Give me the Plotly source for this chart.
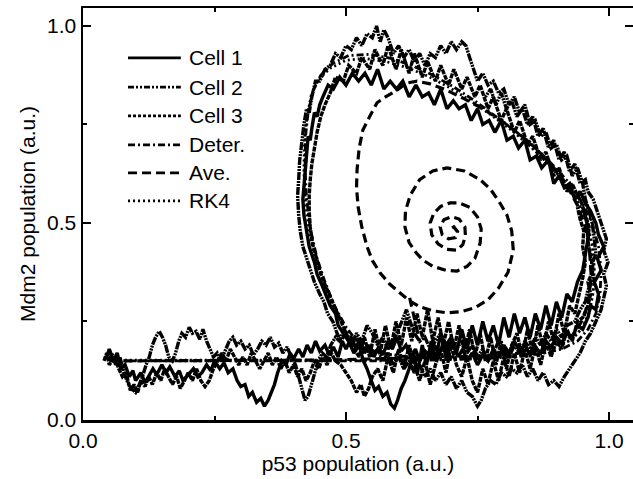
import plotly.graph_objects as go

# ---------------- data ----------------
cell1_pts = [
    (0.045,0.16),(0.05,0.18),(0.058,0.15),(0.065,0.17),(0.072,0.13),(0.08,0.14),(0.088,0.11),(0.095,0.125),
    (0.10,0.10),(0.11,0.12),(0.118,0.095),(0.125,0.11),(0.133,0.13),(0.14,0.115),(0.15,0.14),(0.158,0.12),
    (0.165,0.135),(0.175,0.11),(0.183,0.125),(0.19,0.10),(0.2,0.115),(0.21,0.13),(0.218,0.11),(0.226,0.12),
    (0.235,0.14),(0.243,0.125),(0.25,0.15),(0.26,0.13),(0.268,0.145),(0.276,0.12),(0.285,0.13),(0.293,0.10),
    (0.30,0.085),(0.308,0.09),(0.315,0.06),(0.322,0.07),(0.33,0.045),(0.338,0.055),(0.345,0.035),(0.352,0.05),
    (0.358,0.07),(0.364,0.09),(0.37,0.12),(0.378,0.15),(0.386,0.14),(0.394,0.17),(0.40,0.155),(0.41,0.18),
    (0.418,0.16),(0.426,0.19),(0.434,0.17),(0.442,0.2),(0.45,0.175),(0.46,0.19),(0.468,0.165),(0.476,0.185),
    (0.485,0.16),(0.493,0.2),(0.50,0.18),(0.51,0.21),(0.518,0.185),(0.527,0.2),(0.535,0.17),(0.545,0.19),
    (0.553,0.16),(0.562,0.185),(0.57,0.165),(0.58,0.2),(0.588,0.18),(0.597,0.21),(0.605,0.175),(0.614,0.19),
    (0.623,0.16),(0.632,0.18),(0.64,0.15),(0.65,0.175),(0.66,0.16),(0.668,0.19),(0.677,0.165),(0.686,0.2),
    (0.695,0.175),(0.704,0.19),(0.713,0.16),(0.722,0.18),(0.73,0.15),(0.74,0.17),(0.75,0.14),(0.76,0.165),
    (0.77,0.15),(0.78,0.18),(0.79,0.16),(0.80,0.19),(0.81,0.17),(0.82,0.2),(0.83,0.175),(0.84,0.19),
    (0.85,0.165),(0.86,0.185),(0.87,0.17),(0.88,0.2),(0.89,0.185),(0.9,0.21),(0.91,0.195),(0.92,0.22),
    (0.93,0.21),(0.94,0.24),(0.95,0.23),(0.96,0.26),
    (0.965,0.29),(0.975,0.28),(0.98,0.32),(0.972,0.35),(0.985,0.38),(0.978,0.41),(0.99,0.44),(0.98,0.47),
    (0.975,0.5),(0.965,0.53),(0.955,0.55),
    (0.945,0.58),(0.935,0.56),(0.925,0.6),(0.915,0.59),(0.905,0.62),(0.895,0.6),(0.885,0.66),(0.872,0.64),
    (0.862,0.67),(0.85,0.66),(0.84,0.71),(0.828,0.69),(0.818,0.72),(0.806,0.71),(0.795,0.76),(0.783,0.73),
    (0.772,0.76),(0.76,0.75),(0.75,0.79),(0.738,0.76),(0.727,0.8),(0.715,0.79),(0.704,0.81),(0.692,0.79),
    (0.68,0.84),(0.668,0.8),(0.657,0.83),(0.645,0.82),(0.633,0.85),(0.62,0.82),(0.608,0.86),(0.596,0.84),
    (0.584,0.86),(0.572,0.84),(0.56,0.89),(0.548,0.85),(0.536,0.88),(0.524,0.86),(0.512,0.88),(0.5,0.85),
    (0.488,0.87),(0.476,0.84),(0.466,0.85),(0.456,0.82),
    (0.45,0.8),(0.445,0.77),(0.44,0.78),(0.435,0.74),(0.432,0.71),(0.428,0.72),(0.425,0.67),(0.422,0.64),
    (0.42,0.6),(0.418,0.56),(0.42,0.52),(0.425,0.48),(0.43,0.44),(0.44,0.4),(0.445,0.37),(0.455,0.34),
    (0.465,0.31),(0.47,0.29),(0.48,0.27),(0.485,0.24),(0.495,0.22),(0.505,0.2),
    (0.515,0.17),(0.525,0.19),(0.533,0.15),(0.54,0.13),(0.548,0.1),(0.555,0.075),(0.562,0.085),(0.57,0.06),
    (0.578,0.07),(0.585,0.04),(0.592,0.03),(0.598,0.05),(0.605,0.08),(0.612,0.1),(0.62,0.13),(0.628,0.17),
    (0.636,0.12),(0.645,0.19),(0.653,0.14),(0.662,0.2),(0.67,0.15),(0.68,0.22),(0.69,0.16),(0.70,0.21),
    (0.71,0.17),(0.72,0.23),(0.73,0.18),(0.74,0.24),(0.75,0.19),(0.76,0.25),(0.77,0.2),(0.78,0.24),
    (0.79,0.19),(0.80,0.26),(0.81,0.21),(0.82,0.27),(0.83,0.22),(0.84,0.26),(0.85,0.21),(0.86,0.27),
    (0.87,0.23),(0.88,0.29),(0.89,0.24),(0.9,0.3),(0.91,0.26),(0.92,0.32),(0.93,0.3),(0.94,0.35),
    (0.95,0.38),(0.955,0.42),(0.96,0.46),(0.958,0.5),(0.95,0.54),
]

cell2_pts = [
    (0.05,0.15),(0.055,0.17),(0.062,0.14),(0.07,0.16),(0.078,0.12),(0.085,0.095),(0.092,0.08),(0.1,0.07),
    (0.107,0.09),(0.113,0.11),(0.12,0.14),(0.126,0.16),(0.132,0.19),(0.138,0.21),(0.145,0.225),(0.151,0.21),
    (0.157,0.19),(0.163,0.16),(0.17,0.15),(0.176,0.17),(0.182,0.2),(0.188,0.22),(0.195,0.21),(0.202,0.235),
    (0.208,0.22),(0.215,0.225),(0.222,0.205),(0.228,0.23),(0.235,0.2),(0.242,0.18),(0.248,0.16),(0.255,0.17),
    (0.262,0.15),(0.27,0.175),(0.278,0.2),(0.285,0.21),(0.292,0.19),(0.3,0.2),(0.308,0.18),(0.316,0.19),
    (0.324,0.165),(0.332,0.18),(0.34,0.2),(0.348,0.19),(0.356,0.21),(0.364,0.185),(0.372,0.195),(0.38,0.17),
    (0.388,0.185),(0.396,0.16),(0.404,0.14),(0.41,0.11),(0.416,0.08),(0.422,0.05),(0.428,0.06),(0.434,0.09),
    (0.44,0.12),(0.447,0.15),(0.455,0.17),(0.463,0.16),(0.471,0.19),(0.48,0.21),(0.488,0.2),(0.496,0.23),
    (0.505,0.21),(0.513,0.2),(0.52,0.22),(0.53,0.2),(0.54,0.24),(0.55,0.22),(0.56,0.19),(0.57,0.21),
    (0.58,0.18),(0.59,0.2),(0.6,0.23),(0.61,0.26),(0.615,0.28),(0.622,0.25),(0.63,0.22),(0.64,0.2),
    (0.65,0.21),(0.66,0.18),(0.67,0.2),(0.68,0.22),(0.69,0.19),(0.70,0.21),(0.71,0.18),(0.72,0.2),
    (0.73,0.17),(0.74,0.19),(0.75,0.16),(0.76,0.18),(0.77,0.15),(0.78,0.17),(0.79,0.2),(0.80,0.18),
    (0.81,0.16),(0.82,0.19),(0.83,0.17),(0.84,0.2),(0.85,0.18),(0.86,0.21),(0.87,0.19),(0.88,0.22),
    (0.89,0.2),(0.9,0.23),(0.91,0.21),(0.92,0.24),(0.935,0.25),(0.945,0.28),(0.955,0.3),
    (0.96,0.33),(0.97,0.36),(0.965,0.39),(0.975,0.42),(0.972,0.46),(0.968,0.5),(0.962,0.53),(0.955,0.56),
    (0.95,0.6),(0.94,0.64),(0.93,0.62),(0.92,0.67),(0.91,0.66),(0.9,0.7),(0.89,0.69),(0.88,0.73),
    (0.87,0.72),(0.86,0.76),(0.85,0.75),(0.84,0.8),(0.83,0.78),(0.82,0.82),(0.81,0.8),(0.8,0.84),
    (0.79,0.83),(0.78,0.86),(0.77,0.85),(0.76,0.88),(0.75,0.86),(0.742,0.89),(0.735,0.92),(0.728,0.95),
    (0.72,0.96),(0.71,0.94),(0.7,0.96),(0.69,0.93),(0.68,0.95),(0.67,0.92),(0.66,0.93),(0.65,0.9),
    (0.64,0.93),(0.63,0.91),(0.62,0.94),(0.61,0.92),(0.6,0.95),(0.59,0.93),(0.58,0.97),(0.572,0.99),
    (0.565,0.96),(0.558,1.0),(0.55,0.97),(0.54,0.98),(0.53,0.95),(0.52,0.97),(0.51,0.94),(0.5,0.95),
    (0.49,0.92),(0.48,0.93),(0.47,0.9),(0.46,0.89),(0.45,0.86),(0.442,0.86),
    (0.435,0.82),(0.43,0.78),(0.425,0.79),(0.42,0.75),(0.416,0.7),(0.412,0.66),(0.41,0.61),(0.408,0.57),
    (0.41,0.52),(0.413,0.48),(0.418,0.44),(0.425,0.41),(0.432,0.38),(0.44,0.35),(0.45,0.32),(0.458,0.3),
    (0.465,0.27),(0.475,0.25),(0.483,0.22),(0.49,0.2),
    (0.5,0.22),(0.51,0.19),(0.52,0.21),(0.53,0.17),(0.54,0.19),(0.55,0.16),(0.56,0.18),(0.57,0.15),
    (0.58,0.17),(0.59,0.14),(0.6,0.16),(0.61,0.13),(0.62,0.15),(0.63,0.12),(0.64,0.14),(0.65,0.11),
    (0.66,0.13),(0.67,0.1),(0.68,0.12),(0.69,0.09),(0.70,0.11),(0.71,0.08),(0.72,0.1),(0.73,0.07),
    (0.74,0.06),(0.75,0.035),(0.757,0.05),(0.765,0.08),(0.775,0.1),(0.785,0.09),(0.795,0.12),(0.805,0.11),
    (0.815,0.13),(0.825,0.12),(0.835,0.14),(0.845,0.11),(0.855,0.13),(0.865,0.1),(0.875,0.12),(0.885,0.09),
    (0.895,0.1),(0.905,0.085),(0.915,0.11),(0.925,0.13),(0.935,0.15),(0.945,0.17),(0.955,0.2),(0.965,0.22),
    (0.975,0.25),(0.985,0.28),(0.99,0.31),(0.995,0.34),(0.99,0.37),(0.998,0.4),(0.99,0.43),(0.995,0.46),
    (0.985,0.5),(0.978,0.53),(0.97,0.56),(0.96,0.58),
    (0.955,0.61),(0.945,0.6),(0.935,0.65),(0.925,0.63),(0.915,0.68),(0.905,0.66),(0.895,0.71),(0.885,0.69),
    (0.875,0.74),(0.865,0.72),(0.855,0.77),(0.845,0.75),(0.835,0.79),(0.825,0.77),(0.815,0.81),(0.805,0.79),
    (0.795,0.83),(0.785,0.8),(0.775,0.84),(0.765,0.82),
]

cell3_pts = [
    (0.04,0.15),(0.045,0.17),(0.05,0.14),(0.06,0.16),(0.068,0.13),(0.075,0.11),(0.082,0.12),(0.09,0.075),
    (0.097,0.09),(0.104,0.07),(0.11,0.1),(0.118,0.085),(0.125,0.11),(0.132,0.09),(0.14,0.12),(0.148,0.1),
    (0.155,0.13),(0.162,0.11),(0.17,0.09),(0.178,0.11),(0.185,0.08),(0.193,0.1),(0.2,0.12),(0.208,0.1),
    (0.216,0.13),(0.224,0.1),(0.232,0.085),(0.24,0.1),(0.248,0.13),(0.256,0.15),(0.264,0.17),(0.272,0.15),
    (0.28,0.18),(0.288,0.16),(0.296,0.14),(0.304,0.16),(0.312,0.14),(0.32,0.17),(0.328,0.15),(0.336,0.13),
    (0.344,0.15),(0.352,0.17),(0.36,0.14),(0.368,0.16),(0.376,0.13),(0.384,0.15),(0.392,0.12),(0.4,0.14),
    (0.408,0.11),(0.416,0.13),(0.424,0.1),(0.432,0.12),(0.44,0.15),(0.448,0.13),(0.456,0.16),(0.464,0.14),
    (0.472,0.17),(0.48,0.15),(0.49,0.14),(0.5,0.12),(0.51,0.1),(0.52,0.07),(0.528,0.09),(0.535,0.06),
    (0.543,0.08),(0.55,0.11),(0.56,0.13),(0.57,0.1),(0.58,0.16),(0.59,0.12),(0.6,0.18),(0.61,0.13),
    (0.62,0.19),(0.63,0.14),(0.64,0.1),(0.65,0.15),(0.66,0.09),(0.67,0.14),(0.68,0.18),(0.69,0.12),
    (0.7,0.19),(0.71,0.14),(0.72,0.11),(0.73,0.16),(0.74,0.1),(0.75,0.07),(0.76,0.13),(0.77,0.09),
    (0.78,0.15),(0.79,0.1),(0.8,0.16),(0.81,0.11),(0.82,0.17),(0.83,0.12),(0.84,0.18),(0.85,0.13),
    (0.86,0.19),(0.87,0.14),(0.88,0.2),(0.89,0.16),(0.9,0.21),(0.91,0.18),(0.92,0.23),(0.93,0.2),
    (0.94,0.25),(0.95,0.26),(0.96,0.29),
    (0.965,0.32),(0.96,0.35),(0.97,0.38),(0.965,0.42),(0.96,0.45),(0.962,0.49),(0.955,0.52),(0.948,0.55),
    (0.94,0.57),
    (0.93,0.6),(0.92,0.58),(0.905,0.64),(0.895,0.62),(0.88,0.68),(0.87,0.66),(0.855,0.72),(0.845,0.7),
    (0.83,0.76),(0.82,0.73),(0.805,0.79),(0.795,0.76),(0.78,0.82),(0.77,0.79),(0.755,0.85),(0.745,0.82),
    (0.73,0.87),(0.72,0.84),(0.705,0.89),(0.695,0.85),(0.68,0.9),(0.67,0.86),(0.655,0.91),(0.645,0.87),
    (0.63,0.93),(0.62,0.88),(0.605,0.94),(0.595,0.89),(0.58,0.95),(0.57,0.9),(0.555,0.94),(0.545,0.89),
    (0.53,0.92),(0.52,0.88),(0.505,0.9),(0.495,0.86),(0.48,0.87),(0.47,0.83),(0.46,0.8),
    (0.452,0.77),(0.445,0.73),(0.44,0.69),(0.435,0.65),(0.432,0.61),(0.43,0.57),(0.43,0.53),(0.432,0.49),
    (0.436,0.45),(0.442,0.42),(0.45,0.38),(0.458,0.35),(0.468,0.32),(0.478,0.29),(0.488,0.26),(0.497,0.23),
    (0.506,0.2),(0.515,0.18),
    (0.525,0.16),(0.535,0.21),(0.545,0.16),(0.555,0.23),(0.565,0.17),(0.575,0.24),(0.585,0.18),(0.595,0.25),
    (0.605,0.19),(0.615,0.26),(0.625,0.2),(0.635,0.27),(0.645,0.21),(0.655,0.28),(0.665,0.2),(0.675,0.26),
    (0.685,0.19),(0.695,0.25),(0.705,0.18),(0.715,0.24),(0.725,0.17),(0.735,0.23),(0.745,0.16),(0.755,0.22),
    (0.765,0.15),(0.775,0.21),(0.785,0.14),(0.795,0.2),(0.805,0.13),(0.815,0.19),(0.825,0.22),(0.835,0.16),
    (0.845,0.23),(0.855,0.17),(0.865,0.24),(0.875,0.18),(0.885,0.25),(0.895,0.2),(0.905,0.27),(0.915,0.22),
    (0.925,0.29),(0.935,0.27),(0.945,0.33),(0.95,0.36),(0.955,0.4),(0.95,0.44),(0.952,0.48),(0.945,0.51),
    (0.94,0.54),
]

deter_p53 = [0.06,0.15,0.25,0.35,0.45,0.55,0.65,0.75,0.82,0.87,0.91,0.94,0.96,0.975,0.983,0.985,0.98,0.968,
             0.95,0.925,0.895,0.86,0.825,0.785,0.745,0.705,0.665,0.625,0.585,0.545,0.505,0.475,0.452,0.437,
             0.428,0.423,0.422,0.425,0.433,0.445,0.46,0.478,0.498,0.52,0.56,0.65,0.75,0.82,0.87,0.91,0.94,
             0.96,0.975,0.983,0.985,0.98,0.968,0.95,0.925,0.895,0.86,0.825,0.785,0.745]
deter_mdm2 = [0.15,0.15,0.15,0.15,0.15,0.15,0.152,0.155,0.16,0.168,0.18,0.2,0.23,0.27,0.32,0.38,0.44,0.5,
              0.55,0.6,0.645,0.69,0.73,0.77,0.81,0.845,0.875,0.9,0.918,0.928,0.925,0.905,0.875,0.835,
              0.78,0.72,0.64,0.56,0.48,0.41,0.35,0.29,0.24,0.2,0.17,0.155,0.155,0.16,0.168,0.18,0.2,
              0.23,0.27,0.32,0.38,0.44,0.5,0.55,0.6,0.645,0.69,0.73,0.77,0.81]

rk4_p53 = [0.07,0.15,0.25,0.35,0.45,0.55,0.65,0.75,0.82,0.865,0.9,0.93,0.95,0.963,0.97,0.972,0.968,0.958,
           0.94,0.915,0.885,0.85,0.815,0.775,0.735,0.695,0.655,0.615,0.575,0.535,0.5,0.47,0.448,0.434,
           0.426,0.421,0.42,0.423,0.431,0.443,0.458,0.476,0.496,0.518,0.56,0.65,0.75,0.82,0.865,0.9,0.93,
           0.95,0.963,0.97,0.972,0.968,0.958,0.94,0.915,0.885,0.85,0.815]
rk4_mdm2 = [0.152,0.152,0.152,0.152,0.152,0.152,0.154,0.157,0.163,0.172,0.185,0.205,0.235,0.275,0.325,0.385,
            0.445,0.505,0.555,0.605,0.65,0.695,0.735,0.775,0.812,0.845,0.873,0.895,0.91,0.918,0.913,0.893,
            0.865,0.825,0.77,0.71,0.63,0.55,0.47,0.405,0.345,0.285,0.237,0.198,0.17,0.157,0.158,0.163,
            0.172,0.185,0.205,0.235,0.275,0.325,0.385,0.445,0.505,0.555,0.605,0.65,0.695,0.735]

ave_p53 = [0.05,0.15,0.25,0.35,0.45,0.55,0.65,0.75,0.82,0.87,0.91,0.935,0.952,0.962,0.966,0.963,0.955,
           0.94,0.92,0.895,0.865,0.83,0.795,0.76,0.725,0.69,0.66,0.635,
           0.615,0.597,0.575,0.559,0.545,0.532,0.525,0.521,0.52,0.523,0.53,0.54,0.55,0.565,0.583,0.603,
           0.62,0.641,0.665,0.692,0.72,0.745,0.77,0.79,0.808,0.818,0.815,0.806,0.793,0.775,0.755,0.725,
           0.692,0.665,0.64,0.622,0.613,0.612,0.62,0.633,0.646,0.665,0.69,0.711,0.73,0.745,0.755,0.757,
           0.75,0.735,0.715,0.698,0.68,0.667,0.66,0.663,0.675,0.692,0.711,0.722,0.727,0.726,0.715,0.7,
           0.686,0.679,0.683,0.695,0.708,0.712,0.705,0.698,0.70,
           None,0.621,0.628,0.634,0.64]
ave_mdm2 = [0.15,0.15,0.15,0.15,0.152,0.155,0.158,0.162,0.168,0.178,0.195,0.22,0.26,0.31,0.37,0.43,0.49,
            0.545,0.595,0.64,0.685,0.725,0.76,0.79,0.815,0.838,0.853,0.86,
            0.855,0.837,0.82,0.805,0.77,0.736,0.69,0.635,0.59,0.541,0.49,0.44,0.405,0.373,0.345,0.322,
            0.303,0.287,0.277,0.272,0.275,0.285,0.305,0.335,0.375,0.431,0.48,0.52,0.55,0.585,0.61,0.632,
            0.64,0.632,0.61,0.57,0.53,0.49,0.45,0.425,0.406,0.39,0.38,0.378,0.39,0.41,0.449,0.485,
            0.515,0.54,0.551,0.551,0.542,0.525,0.5,0.47,0.447,0.433,0.431,0.445,0.468,0.49,0.51,0.516,
            0.508,0.49,0.47,0.46,0.463,0.478,0.49,0.485,0.478,
            None,0.31,0.27,0.23,0.2]

series_names = ["Cell 1", "Cell 2", "Cell 3", "Deter.", "Ave.", "RK4"]
x_tick_vals = [0.0, 0.5, 1.0]
x_tick_text = ["0.0", "0.5", "1.0"]
y_tick_vals = [0.0, 0.5, 1.0]
y_tick_text = ["0.0", "0.5", "1.0"]

# ---------------- styles ----------------
dashes = {
    "Cell 1": "solid",
    "Cell 2": "6px,2px,2px,2px,2px,2px",
    "Cell 3": "3px,2px",
    "Deter.": "7px,3px,2px,3px",
    "Ave.": "9px,5px",
    "RK4": "2px,3px",
}
trace_dashes = {
    "Cell 1": "solid",
    "Cell 2": "8px,1px,2px,1px,2px,1px",
    "Cell 3": "5px,1px",
    "Deter.": "7px,3px,2px,3px",
    "Ave.": "9px,5px",
    "RK4": "2px,3px",
}

fig = go.Figure()

def add(name, xs, ys, w=3.0):
    fig.add_trace(go.Scatter(x=xs, y=ys, mode="lines", name=name,
                             line=dict(color="black", width=w, dash=trace_dashes[name]),
                             showlegend=False, hoverinfo="skip"))

add("Cell 1", [p[0] for p in cell1_pts], [p[1] for p in cell1_pts], 3.4)
add("Cell 2", [p[0] for p in cell2_pts], [p[1] for p in cell2_pts], 3.4)
add("Cell 3", [p[0] for p in cell3_pts], [p[1] for p in cell3_pts], 3.4)
add("Deter.", deter_p53, deter_mdm2, 2.8)
add("RK4", rk4_p53, rk4_mdm2, 2.8)
add("Ave.", ave_p53, ave_mdm2, 3.2)

# ---------------- manual legend (decoration) ----------------
FONT = "Liberation Sans, Arial, sans-serif"
leg_x0, leg_x1, leg_tx = 0.0856, 0.186, 0.198
leg_y = [0.919, 0.845, 0.772, 0.698, 0.627, 0.556]
for name, yy in zip(series_names, leg_y):
    fig.add_shape(type="line", xref="x", yref="y", x0=leg_x0, x1=leg_x1, y0=yy, y1=yy,
                  line=dict(color="black", width=2.8, dash=dashes[name]))
    fig.add_annotation(x=leg_tx, y=yy, xref="x", yref="y", text=name, showarrow=False,
                       xanchor="left", yanchor="middle", font=dict(family=FONT, size=21, color="black"))

axis_common = dict(
    ticks="inside", ticklen=8, tickwidth=2, tickcolor="black",
    showline=True, linewidth=2.5, linecolor="black", mirror="allticks",
    showgrid=False, zeroline=False, automargin=False,
    minor=dict(tickvals=[0.25, 0.75], ticks="inside", ticklen=4, tickwidth=2, tickcolor="black"),
    tickfont=dict(family=FONT, size=21, color="black"),
)

fig.update_layout(
    width=633, height=479,
    margin=dict(l=83, r=0, t=8, b=59),
    plot_bgcolor="white", paper_bgcolor="white",
    showlegend=False,
    font=dict(family=FONT, size=21, color="black"),
    xaxis=dict(range=[0, 1.0456], tickvals=x_tick_vals, ticktext=x_tick_text,
               title=dict(text="p53 population (a.u.)", font=dict(family=FONT, size=21), standoff=2),
               **axis_common),
    yaxis=dict(range=[0, 1.0456], tickvals=y_tick_vals, ticktext=y_tick_text,
               title=dict(text="Mdm2 population (a.u.)", font=dict(family=FONT, size=21), standoff=6),
               **axis_common),
)

fig.write_html("out.html", config={"displayModeBar": False, "staticPlot": True},
               post_script="document.body.style.margin='0px';document.body.style.overflow='hidden';")
